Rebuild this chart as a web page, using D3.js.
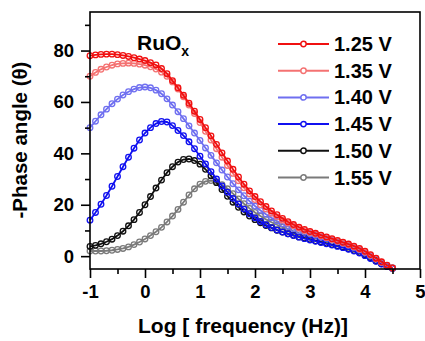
<!DOCTYPE html>
<html>
<head>
<meta charset="utf-8">
<script src="https://cdn.jsdelivr.net/npm/d3@7"></script>
<style>
  body { margin: 0; background: #fff; }
  text { font-family: "Liberation Sans", Arial, sans-serif; font-weight: bold; }
</style>
</head>
<body>
<div id="chart"></div>
<script>
const logFreq = [-1.0, -0.9, -0.8, -0.7, -0.6, -0.5, -0.4, -0.3, -0.2, -0.1,
    0.0, 0.1, 0.2, 0.3, 0.4, 0.5, 0.6, 0.7, 0.8, 0.9,
    1.0, 1.1, 1.2, 1.3, 1.4, 1.5, 1.6, 1.7, 1.8, 1.9,
    2.0, 2.1, 2.2, 2.3, 2.4, 2.5, 2.6, 2.7, 2.8, 2.9,
    3.0, 3.1, 3.2, 3.3, 3.4, 3.5, 3.6, 3.7, 3.8, 3.9,
    4.0, 4.1, 4.2, 4.3, 4.4, 4.5];

const phase125 = [78.0, 78.3, 78.5, 78.6, 78.6, 78.4, 78.1, 77.7, 77.2, 76.7,
    76.1, 75.3, 74.4, 73.0, 71.0, 68.3, 65.5, 62.6, 59.5, 56.4,
    53.2, 50.0, 46.8, 43.5, 40.2, 37.0, 33.8, 30.8, 28.0, 25.4,
    23.2, 21.2, 19.3, 17.6, 16.1, 14.7, 13.4, 12.3, 11.3, 10.4,
    9.6, 8.9, 8.2, 7.5, 6.8, 6.1, 5.4, 4.7, 3.9, 3.0,
    1.9, 0.6, -0.8, -2.2, -3.5, -4.6];
const phase135 = [70.0, 71.5, 72.7, 73.6, 74.3, 74.8, 75.0, 75.1, 75.0, 74.7,
    74.3, 73.7, 72.8, 71.6, 70.0, 67.8, 65.0, 62.0, 58.8, 55.5,
    52.0, 48.6, 45.2, 41.8, 38.5, 35.3, 32.2, 29.3, 26.6, 24.2,
    22.0, 20.0, 18.3, 16.7, 15.3, 14.0, 12.9, 11.8, 10.9, 10.0,
    9.3, 8.6, 7.9, 7.2, 6.5, 5.8, 5.1, 4.4, 3.6, 2.7,
    1.6, 0.4, -1.0, -2.4, -3.6, -4.6];
const phase140 = [50.0, 52.5, 55.0, 57.2, 59.3, 61.1, 62.7, 64.0, 65.0, 65.6,
    65.8, 65.5, 64.6, 63.2, 61.2, 58.8, 56.2, 53.5, 50.7, 47.9,
    45.0, 42.1, 39.2, 36.3, 33.5, 30.8, 28.2, 25.8, 23.5, 21.4,
    19.5, 17.8, 16.3, 14.9, 13.7, 12.6, 11.6, 10.7, 9.9, 9.3,
    8.7, 8.1, 7.5, 6.9, 6.3, 5.6, 4.9, 4.2, 3.4, 2.5,
    1.4, 0.2, -1.1, -2.5, -3.7, -4.6];
const phase145 = [14.0, 17.0, 20.2, 23.6, 27.2, 31.0, 34.8, 38.5, 42.0, 45.2,
    47.9, 50.0, 51.6, 52.4, 52.2, 50.8, 48.9, 46.9, 44.5, 41.8,
    38.9, 35.9, 32.9, 30.0, 27.3, 24.9, 22.5, 20.3, 18.3, 16.5,
    14.9, 13.5, 12.2, 11.1, 10.2, 9.4, 8.7, 8.0, 7.4, 6.8,
    6.3, 5.8, 5.3, 4.8, 4.3, 3.8, 3.3, 2.7, 2.0, 1.2,
    0.2, -0.9, -2.0, -3.1, -4.0, -4.8];
const phase150 = [3.8, 4.2, 4.8, 5.6, 6.6, 8.0, 9.7, 11.8, 14.2, 17.0,
    20.0, 23.2, 26.5, 29.6, 32.5, 34.8, 36.6, 37.6, 37.8, 37.2,
    35.8, 33.8, 31.3, 28.6, 25.9, 23.3, 21.0, 19.0, 17.2, 15.6,
    14.2, 13.0, 11.9, 11.0, 10.1, 9.4, 8.7, 8.1, 7.5, 7.0,
    6.5, 6.0, 5.5, 5.0, 4.5, 4.0, 3.5, 2.9, 2.2, 1.4,
    0.4, -0.7, -1.9, -3.0, -3.9, -4.7];
const phase155 = [2.0, 2.0, 2.0, 2.1, 2.3, 2.6, 3.0, 3.6, 4.5, 5.5,
    6.7, 8.0, 9.5, 11.2, 13.3, 15.6, 18.2, 21.0, 23.8, 26.2,
    28.0, 29.1, 29.4, 29.0, 27.8, 26.2, 24.3, 22.3, 20.4, 18.6,
    17.0, 15.6, 14.3, 13.2, 12.2, 11.3, 10.5, 9.7, 9.0, 8.4,
    7.8, 7.2, 6.6, 6.1, 5.5, 4.9, 4.3, 3.6, 2.9, 2.0,
    0.9, -0.3, -1.6, -2.8, -3.8, -4.6];

const seriesNames = ["1.25 V", "1.35 V", "1.40 V", "1.45 V", "1.50 V", "1.55 V"];
const seriesColors = ["#f01010", "#f47272", "#6f6ff0", "#1010f0", "#101010", "#7a7a7a"];
const seriesValues = [phase125, phase135, phase140, phase145, phase150, phase155];

const xTicks = [-1, 0, 1, 2, 3, 4, 5];
const yTicks = [0, 20, 40, 60, 80];

const width = 425;
const height = 341;
const margin = { top: 12, right: 5, bottom: 72, left: 90 };

const svg = d3.create("svg")
    .attr("width", width)
    .attr("height", height);

const x = d3.scaleLinear()
    .domain([-1, 5])
    .range([margin.left, width - margin.right]);

const y = d3.scaleLinear()
    .domain([-5, 95])
    .range([height - margin.bottom, margin.top]);

// curves, drawn from the last series up so 1.25 V sits on top
const line = d3.line()
    .x(d => x(d[0]))
    .y(d => y(d[1]));

const series = seriesValues.map((vals, i) => ({
    name: seriesNames[i],
    color: seriesColors[i],
    points: logFreq.map((f, j) => [f, vals[j]])
}));

const curves = svg.append("g")
    .selectAll("g")
    .data(series.slice().reverse())
    .join("g");

curves.append("path")
    .attr("d", d => line(d.points))
    .attr("fill", "none")
    .attr("stroke", d => d.color)
    .attr("stroke-width", 1.8);

curves.selectAll("circle")
    .data(d => d.points.map(p => ({ p, color: d.color })))
    .join("circle")
    .attr("cx", d => x(d.p[0]))
    .attr("cy", d => y(d.p[1]))
    .attr("r", 2.8)
    .attr("fill", "none")
    .attr("stroke", d => d.color)
    .attr("stroke-width", 1.3);

// axes
const xAxis = d3.axisBottom(x)
    .tickValues(xTicks)
    .tickSize(9)
    .tickPadding(7)
    .tickFormat(d => String(d));

const xMinor = d3.axisBottom(x)
    .tickValues([-0.5, 0.5, 1.5, 2.5, 3.5, 4.5])
    .tickSize(5)
    .tickFormat("");

const yAxis = d3.axisLeft(y)
    .tickValues(yTicks)
    .tickSize(9)
    .tickPadding(7);

const yMinor = d3.axisLeft(y)
    .tickValues([10, 30, 50, 70, 90])
    .tickSize(5)
    .tickFormat("");

svg.append("g")
    .attr("transform", `translate(0,${height - margin.bottom})`)
    .call(xAxis);
svg.append("g")
    .attr("transform", `translate(0,${height - margin.bottom})`)
    .call(xMinor);

svg.append("g")
    .attr("transform", `translate(${margin.left},0)`)
    .call(yAxis);
svg.append("g")
    .attr("transform", `translate(${margin.left},0)`)
    .call(yMinor);

svg.selectAll(".domain").remove();
svg.selectAll(".tick line").attr("stroke", "#000").attr("stroke-width", 1.6);
svg.selectAll(".tick text")
    .attr("font-size", 18.5)
    .attr("font-family", "Liberation Sans, Arial, sans-serif")
    .attr("font-weight", "bold")
    .attr("fill", "#000");

// frame
svg.append("rect")
    .attr("x", margin.left)
    .attr("y", margin.top)
    .attr("width", width - margin.left - margin.right)
    .attr("height", height - margin.top - margin.bottom)
    .attr("fill", "none")
    .attr("stroke", "#000")
    .attr("stroke-width", 1.6);

// labels
svg.append("text")
    .attr("x", 243)
    .attr("y", 333)
    .attr("text-anchor", "middle")
    .attr("font-size", 21)
    .text("Log [ frequency (Hz)]");

svg.append("text")
    .attr("transform", "translate(27,140) rotate(-90)")
    .attr("text-anchor", "middle")
    .attr("font-size", 20.5)
    .text("-Phase angle (\u03b8)");

const title = svg.append("text")
    .attr("x", 137)
    .attr("y", 50)
    .attr("font-size", 21);
title.append("tspan").text("RuO");
title.append("tspan")
    .attr("font-size", 14)
    .attr("dy", 6)
    .text("x");

// legend
const legend = svg.append("g")
    .selectAll("g")
    .data(series)
    .join("g")
    .attr("transform", (d, i) => `translate(0,${44 + i * 26.7})`);

legend.append("line")
    .attr("x1", 278)
    .attr("x2", 329)
    .attr("stroke", d => d.color)
    .attr("stroke-width", 2);

legend.append("circle")
    .attr("cx", 303.5)
    .attr("r", 2.7)
    .attr("fill", "#fff")
    .attr("stroke", d => d.color)
    .attr("stroke-width", 1.5);

legend.append("text")
    .attr("x", 334)
    .attr("y", 7)
    .attr("font-size", 20)
    .text(d => d.name);

d3.select("#chart").node().appendChild(svg.node());
</script>
</body>
</html>
